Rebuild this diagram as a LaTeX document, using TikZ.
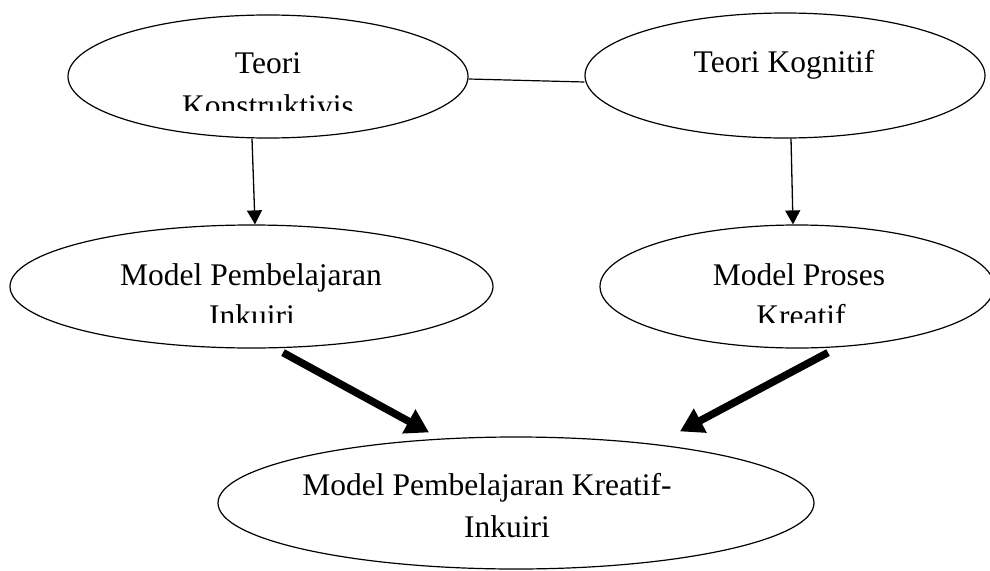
\documentclass[tikz,border=0pt]{standalone}
\usepackage{fontspec}
\setmainfont{Liberation Serif}
\usetikzlibrary{shapes.geometric,arrows.meta}
\begin{document}
\begin{tikzpicture}[x=1pt,y=-1pt,
    oval/.style={draw, ellipse, line width=1.2pt, inner sep=0pt},
    txt/.style={anchor=base, inner sep=0pt, font=\fontsize{31.5}{41}\selectfont},
    thinarrow/.style={line width=1.3pt, -{Triangle[length=14pt,width=15pt]}},
    fatarrow/.style={line width=7.5pt, -{Triangle[length=23pt,width=26pt]}}]
    \useasboundingbox (0,0) rectangle (990,570);
    \node [oval, minimum width=400pt, minimum height=123pt] (konstruktivis) at (268,76.5) {};
    \node [oval, minimum width=400pt, minimum height=125pt] (kognitif) at (785,75.5) {};
    \node [oval, minimum width=483pt, minimum height=123pt] (inkuiri) at (251.5,286.5) {};
    \node [oval, minimum width=394pt, minimum height=123pt] (kreatif) at (797,286.5) {};
    \node [oval, minimum width=596pt, minimum height=132pt] (kreatifinkuiri) at (516,503) {};
    \begin{scope}
        \clip (0,0) rectangle (990,110);
        \node [txt] (teori) at (268,73) {Teori};
        \node [txt] (konstruktivistxt) at (268,116) {Konstruktivis};
    \end{scope}
    \node [txt] (kognitiftxt) at (784,72) {Teori Kognitif};
    \begin{scope}
        \clip (0,200) rectangle (990,322);
        \node [txt] (inkuiritxt) at (251,285) {Model Pembelajaran};
        \node [txt] (inkuiritxtb) at (252,326) {Inkuiri};
        \node [txt] (kreatiftxt) at (799,285) {Model Proses};
        \node [txt] (kreatiftxtb) at (801,326) {Kreatif};
    \end{scope}
    \node [txt] (kitxt) at (487,495) {Model Pembelajaran Kreatif-};
    \node [txt] (kitxtb) at (507,537) {Inkuiri};
    \draw [line width=1.2pt] ([yshift=-2.5pt]konstruktivis.east) -- ([yshift=-6.5pt]kognitif.west);
    \draw [thinarrow] ([xshift=-16pt]konstruktivis.south) -- ([xshift=3.5pt]inkuiri.north);
    \draw [thinarrow] ([xshift=6pt]kognitif.south) -- ([xshift=-4pt]kreatif.north);
    \draw [fatarrow] ([xshift=31.5pt,yshift=-4pt]inkuiri.south) -- ([xshift=-87pt,yshift=4pt]kreatifinkuiri.north);
    \draw [fatarrow] ([xshift=31pt,yshift=-4pt]kreatif.south) -- ([xshift=164pt,yshift=5pt]kreatifinkuiri.north);
\end{tikzpicture}
\end{document}
